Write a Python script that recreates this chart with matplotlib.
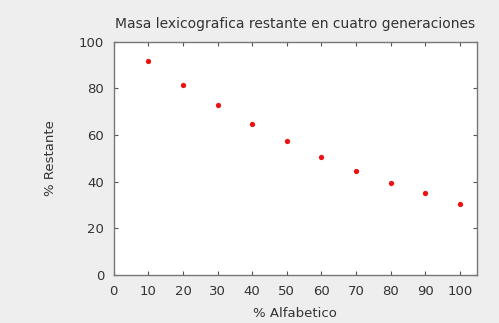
import matplotlib
matplotlib.use("Agg")
import matplotlib.pyplot as plt

alfabetico = [10, 20, 30, 40, 50, 60, 70, 80, 90, 100]
restante = [91.6, 81.6, 72.9, 64.5, 57.3, 50.4, 44.5, 39.3, 35.3, 30.2]
x_ticks = list(range(0, 101, 10))
y_ticks = [0, 20, 40, 60, 80, 100]

fig = plt.figure(figsize=(4.99, 3.23), dpi=100, facecolor="#eeeeee")
ax = fig.add_axes([0.228, 0.149, 0.728, 0.722])
ax.plot(alfabetico, restante, "o", color="#ee1111", ms=3.8, mec="none")
ax.set_xlim(0, 105)
ax.set_ylim(0, 100)
ax.set_xticks(x_ticks)
ax.set_yticks(y_ticks)
ax.tick_params(direction="in", top=True, right=True, length=3, width=0.8,
               colors="#555555", labelcolor="#333333", labelsize=9.5, pad=7)
for s in ax.spines.values():
    s.set_color("#777777")
    s.set_linewidth(1.0)
ax.set_title("Masa lexicografica restante en cuatro generaciones",
             fontsize=10, color="#333333", pad=10)
ax.set_xlabel("% Alfabetico", fontsize=9.5, color="#333333", labelpad=7)
ax.set_ylabel("% Restante", fontsize=9.5, color="#333333", labelpad=16)
fig.savefig("out.png", dpi=100, facecolor=fig.get_facecolor())
